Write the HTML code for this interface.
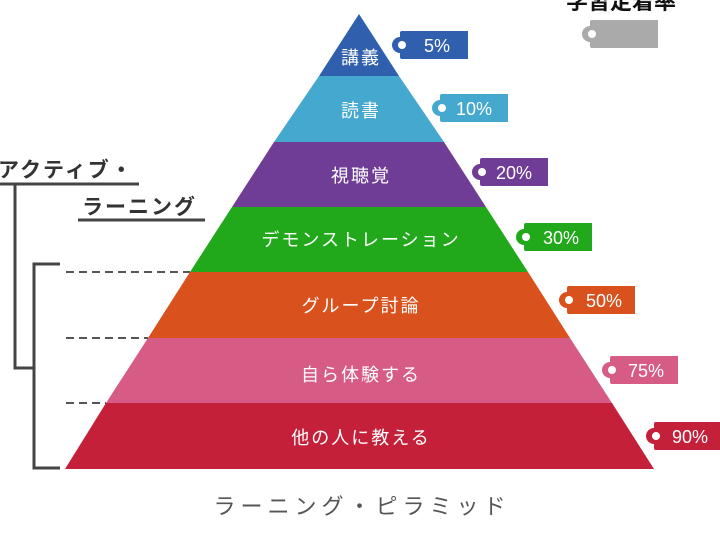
<!DOCTYPE html>
<html><head><meta charset="utf-8"><style>
body{margin:0;width:720px;height:540px;overflow:hidden;background:#fff}
svg text{font-family:"Liberation Sans","Noto Sans CJK JP",sans-serif}
</style></head><body>
<svg width="720" height="540" viewBox="0 0 720 540">
<defs>
<path id="tag" d="M10,0H76V28H10A2,2 0 0 1 8,26V22A8,8 0 0 1 8,6V2A2,2 0 0 1 10,0Z"/>
</defs>
<g>
<polygon points="359,14 399,76 319,76" fill="#2f5fad"/>
<polygon points="319,76 399,76 444,142 274,142" fill="#44a8cf"/>
<polygon points="274,142 444,142 486,207 232,207" fill="#6f3d96"/>
<polygon points="232,207 486,207 528,272 190,272" fill="#22a81b"/>
<polygon points="190,272 528,272 570,338 148,338" fill="#d9521d"/>
<polygon points="148,338 570,338 612,403 106,403" fill="#d65c86"/>
<polygon points="106,403 612,403 654,469 65,469" fill="#c5203a"/>
</g>
<g fill="#fff" font-size="18" text-anchor="middle" letter-spacing="2">
<text x="361" y="64">講義</text>
<text x="361" y="117">読書</text>
<text x="361" y="182">視聴覚</text>
<text x="361" y="246">デモンストレーション</text>
<text x="361" y="312">グループ討論</text>
<text x="361" y="381">自ら体験する</text>
<text x="361" y="444">他の人に教える</text>
</g>
<g font-size="18" fill="#fff">
<g transform="translate(392,31)"><use href="#tag" fill="#2f5fad"/><circle cx="10" cy="14" r="4"/><text x="32" y="21">5%</text></g>
<g transform="translate(432,94)"><use href="#tag" fill="#44a8cf"/><circle cx="10" cy="14" r="4"/><text x="24" y="21">10%</text></g>
<g transform="translate(472,158)"><use href="#tag" fill="#6f3d96"/><circle cx="10" cy="14" r="4"/><text x="24" y="21">20%</text></g>
<g transform="translate(516,223)"><use href="#tag" fill="#22a81b"/><circle cx="10" cy="14" r="4"/><text x="27" y="21">30%</text></g>
<g transform="translate(559,286)"><use href="#tag" fill="#d9521d"/><circle cx="10" cy="14" r="4"/><text x="27" y="21">50%</text></g>
<g transform="translate(602,356)"><use href="#tag" fill="#d65c86"/><circle cx="10" cy="14" r="4"/><text x="26" y="21">75%</text></g>
<g transform="translate(646,422)"><use href="#tag" fill="#c5203a"/><circle cx="10" cy="14" r="4"/><text x="26" y="21">90%</text></g>
<g transform="translate(582,20)"><use href="#tag" fill="#aaa"/><circle cx="10" cy="14" r="4"/></g>
</g>
<text x="566" y="9" font-size="22" font-weight="bold" fill="#111">学習定着率</text>
<g stroke="#444" stroke-width="3" fill="none">
<path d="M0,184H139M15,184V368H34M60,264H34V468H60M78,220H205"/>
</g>
<g stroke="#555" stroke-width="2" stroke-dasharray="8,5">
<line x1="66" y1="272" x2="190" y2="272"/>
<line x1="66" y1="338" x2="148" y2="338"/>
<line x1="66" y1="403" x2="106" y2="403"/>
</g>
<g font-size="21" font-weight="bold" fill="#333" letter-spacing="2">
<text x="-2" y="177">アクティブ・</text>
<text x="82" y="214">ラーニング</text>
</g>
<text x="362" y="514" font-size="22" fill="#555" text-anchor="middle" letter-spacing="5">ラーニング・ピラミッド</text>
</svg>
</body></html>
